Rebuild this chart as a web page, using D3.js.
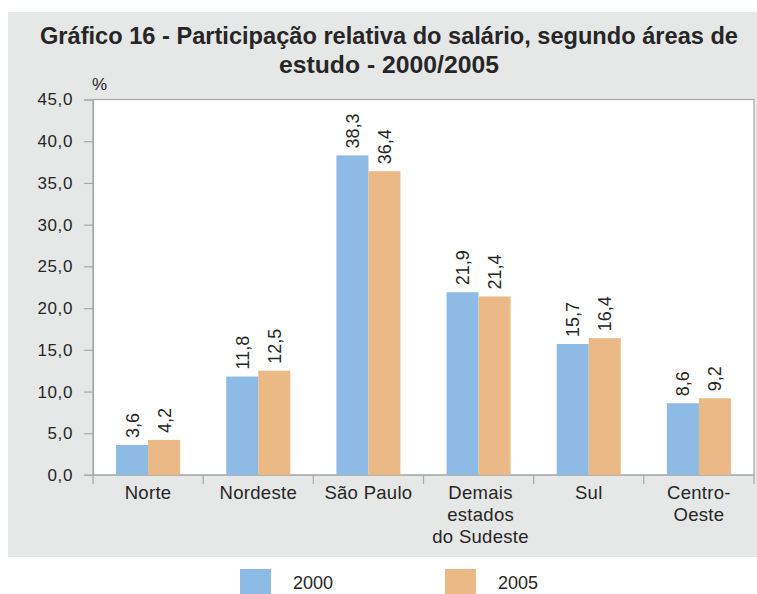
<!DOCTYPE html>
<html><head><meta charset="utf-8">
<script src="https://cdn.jsdelivr.net/npm/d3@7"></script>
<style>body{margin:0;background:#fff}svg{display:block}</style>
</head><body>
<svg id="c" width="757" height="594"></svg>
<script>
const categories = [["Norte"],["Nordeste"],["São Paulo"],["Demais","estados","do Sudeste"],["Sul"],["Centro-","Oeste"]];
const series2000 = [3.6, 11.8, 38.3, 21.9, 15.7, 8.6];
const series2005 = [4.2, 12.5, 36.4, 21.4, 16.4, 9.2];
const seriesNames = ["2000", "2005"];
const yTicks = [0,5,10,15,20,25,30,35,40,45];
const titleLines = ["Gráfico 16 - Participação relativa do salário, segundo áreas de", "estudo - 2000/2005"];

const colors = ["#8EBBE5", "#EBB985"];
const fmt = v => d3.format(".1f")(v).replace(".", ",");
const svg = d3.select("#c");
const font = "'Liberation Sans', Arial, Helvetica, sans-serif";
const textCol = "#262626";

svg.append("rect").attr("x",8).attr("y",12).attr("width",757-8).attr("height",545).attr("fill","#E6E7E7");

const m = {l:93, r:754, t:99.5, b:475};
const x0 = d3.scaleBand().domain(d3.range(categories.length)).range([m.l, m.r]).paddingInner(0).paddingOuter(0);
const x1 = d3.scaleBand().domain([0,1]).range([0, x0.bandwidth()]).paddingOuter(0.72).paddingInner(0);
const y = d3.scaleLinear().domain([0,45]).range([m.b, m.t]);

svg.append("rect").attr("x",m.l).attr("y",m.t).attr("width",m.r-m.l).attr("height",m.b-m.t).attr("fill","#fff").attr("stroke","#A8A8A8").attr("stroke-width",1.2);

// title
const titleW = [698, 220];
titleLines.forEach((t,i)=>{
  svg.append("text").attr("x",389).attr("y",44+i*29).attr("text-anchor","middle")
    .attr("font-family","'Liberation Sans Narrow', 'Liberation Sans', Arial, sans-serif")
    .attr("font-weight","bold").attr("font-size",24).attr("fill",textCol)
    .attr("textLength",titleW[i]).attr("lengthAdjust","spacingAndGlyphs").text(t);
});

// y axis
const yAxis = d3.axisLeft(y).tickValues(yTicks).tickFormat(fmt).tickSize(9).tickPadding(11);
const yg = svg.append("g").attr("transform",`translate(${m.l},0)`).call(yAxis);
yg.select(".domain").attr("stroke","#A8A8A8").attr("stroke-width",1.2);
yg.selectAll(".tick line").attr("stroke","#A8A8A8").attr("stroke-width",1.2);
yg.selectAll(".tick text").attr("font-family",font).attr("font-size",17).attr("letter-spacing",0.6).attr("fill",textCol);

svg.append("text").attr("x",92).attr("y",90).attr("font-family",font).attr("font-size",17).attr("fill",textCol).text("%");

// x axis
const xg = svg.append("g").attr("transform",`translate(0,${m.b})`);
xg.append("line").attr("x1",m.l-9).attr("x2",m.r).attr("stroke","#A8A8A8").attr("stroke-width",1.2);
const bounds = d3.range(categories.length+1).map(i => i < categories.length ? x0(i) : x0(i-1)+x0.bandwidth());
xg.selectAll("line.tk").data(bounds).join("line").attr("class","tk")
  .attr("x1",d=>d).attr("x2",d=>d).attr("y1",0).attr("y2",9).attr("stroke","#A8A8A8").attr("stroke-width",1.2);
xg.selectAll("text.cat").data(categories).join("text").attr("class","cat")
  .attr("x",(d,i)=>x0(i)+x0.bandwidth()/2+ (i===3?2:0)).attr("y",24)
  .attr("text-anchor","middle").attr("font-family",font).attr("font-size",18.5).attr("letter-spacing",0.3).attr("fill",textCol)
  .each(function(d){
    d3.select(this).selectAll("tspan").data(d).join("tspan")
      .attr("x",d3.select(this).attr("x")).attr("dy",(t,j)=>j===0?0:22).text(t=>t);
  });

// bars
const data = categories.map((c,i)=>[series2000[i], series2005[i]]);
const groups = svg.append("g").selectAll("g").data(data).join("g").attr("transform",(d,i)=>`translate(${x0(i)},0)`);
groups.selectAll("rect").data(d=>d).join("rect")
  .attr("x",(d,j)=>x1(j)).attr("width",x1.bandwidth()).attr("y",d=>y(d)).attr("height",d=>y(0)-y(d))
  .attr("fill",(d,j)=>colors[j]);
groups.selectAll("text").data(d=>d).join("text")
  .attr("transform",(d,j)=>`translate(${x1(j)+x1.bandwidth()/2},${y(d)-7}) rotate(-90)`)
  .attr("dy","0.36em").attr("text-anchor","start").attr("font-family",font).attr("font-size",18).attr("fill",textCol)
  .text(d=>fmt(d));

// legend
seriesNames.forEach((n,i)=>{
  const lx = 240 + i*205;
  svg.append("rect").attr("x",lx).attr("y",569).attr("width",31).attr("height",25).attr("fill",colors[i]);
  svg.append("text").attr("x",lx+53).attr("y",589).attr("font-family",font).attr("font-size",18).attr("fill",textCol).text(n);
});
</script>
</body></html>
